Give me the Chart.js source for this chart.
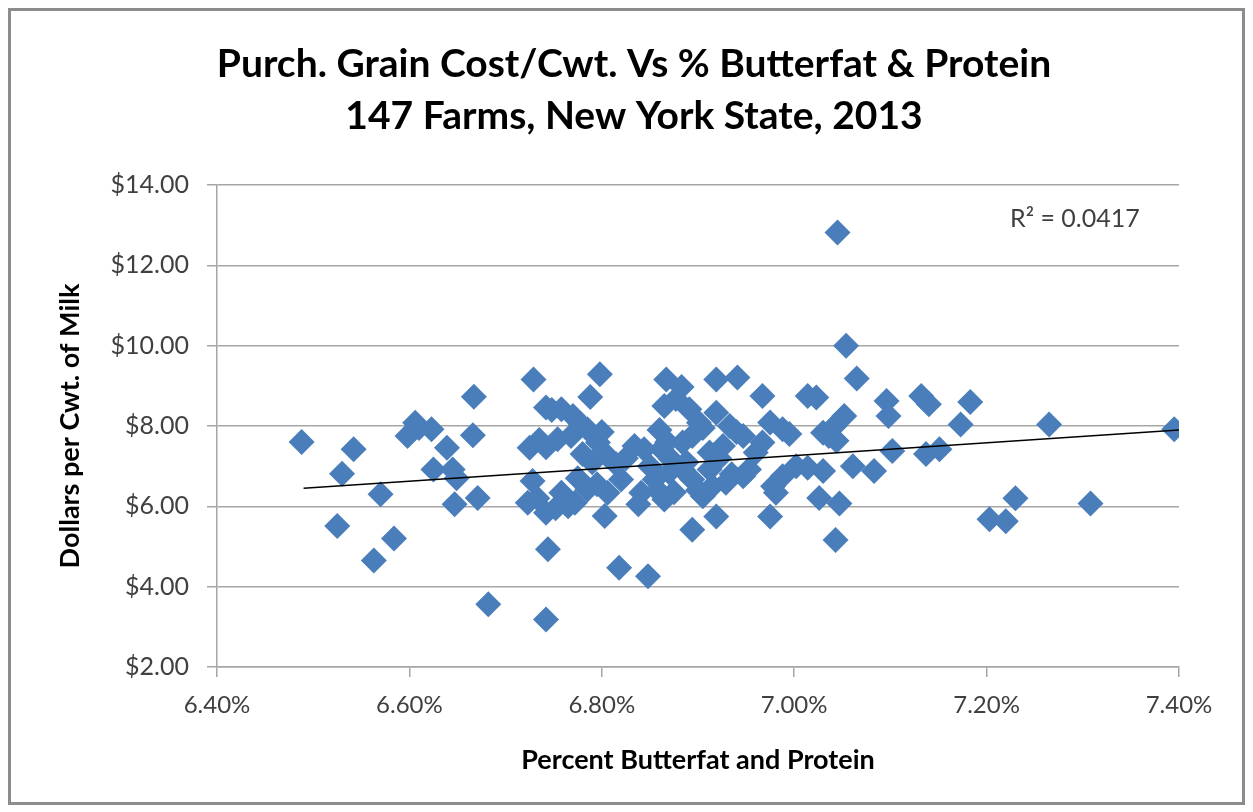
<!DOCTYPE html>
<html>
<head>
<meta charset="utf-8">
<script src="https://cdn.jsdelivr.net/npm/chart.js@4.4.1/dist/chart.umd.min.js"></script>
<style>
  html, body { margin: 0; padding: 0; background: #fff; }
  #wrap { width: 1253px; height: 812px; }
</style>
</head>
<body>
<div id="wrap"><canvas id="grainChart" width="1253" height="812"></canvas></div>
<script>
// --- DATA ---
// percent butterfat + protein
const xVals = [
  6.488, 6.542, 6.530, 6.570, 6.525, 6.584, 6.563,
  6.598, 6.606, 6.623, 6.610, 6.639, 6.625, 6.645, 6.649, 6.647, 6.671, 6.667, 6.666, 6.682,
  6.729, 6.742, 6.748, 6.725, 6.742, 6.735, 6.728, 6.723, 6.733, 6.742, 6.744, 6.742, 6.752, 6.754, 6.758, 6.758,
  6.768, 6.770, 6.772, 6.778, 6.785, 6.785, 6.788, 6.796, 6.798, 6.780, 6.790, 6.775, 6.765, 6.803, 6.806, 6.806, 6.800, 6.795,
  6.815, 6.820, 6.818, 6.825, 6.834, 6.844, 6.841, 6.848, 6.838, 6.855, 6.850, 6.862, 6.865, 6.865, 6.867, 6.872, 6.877,
  6.858, 6.870, 6.860, 6.875, 6.868,
  6.883, 6.891, 6.884, 6.894, 6.884, 6.894, 6.894, 6.901, 6.905, 6.912, 6.912, 6.915, 6.919, 6.919, 6.919, 6.926, 6.929,
  6.933, 6.941, 6.947, 6.947, 6.905, 6.888, 6.922, 6.935, 6.900, 6.940,
  6.953, 6.960, 6.967, 6.967, 6.975, 6.975, 6.978, 6.981, 6.988, 6.988, 7.002, 6.995,
  7.014, 7.014, 7.023, 7.030, 7.030, 7.026, 7.042, 7.044, 7.047, 7.043, 7.045, 7.052, 7.054, 7.061, 7.065, 7.083,
  7.096, 7.098, 7.102, 7.036,
  7.132, 7.140, 7.137, 7.151, 7.173, 7.183, 7.203, 7.220, 7.230, 7.265, 7.308, 7.395
];
// purchased grain cost, $ per cwt of milk
const yVals = [
  7.60, 7.42, 6.81, 6.30, 5.51, 5.20, 4.65,
  7.75, 8.08, 7.92, 7.95, 7.46, 6.92, 6.92, 6.70, 6.05, 6.21, 8.73, 7.77, 3.56,
  9.16, 8.46, 8.40, 7.46, 7.47, 7.65, 6.63, 6.09, 6.20, 5.84, 4.93, 3.18, 5.95, 7.67, 8.42, 6.34,
  7.75, 8.25, 6.09, 8.05, 7.92, 6.42, 8.72, 7.59, 9.29, 7.30, 7.10, 6.70, 6.00, 5.76, 7.25, 6.34, 7.85, 6.55,
  7.05, 6.67, 4.47, 7.20, 7.50, 7.42, 6.34, 4.26, 6.05, 6.67, 7.00, 7.42, 6.17, 8.50, 9.16, 7.17, 8.67,
  6.40, 6.85, 7.90, 6.35, 7.60,
  8.97, 8.42, 7.59, 7.75, 6.92, 6.67, 5.42, 8.08, 6.25, 7.34, 6.92, 6.50, 9.16, 8.33, 5.75, 7.50, 6.59,
  8.00, 9.21, 7.75, 6.75, 7.95, 7.10, 7.20, 6.80, 6.40, 7.85,
  6.92, 7.34, 7.59, 8.75, 8.09, 5.75, 6.50, 6.34, 7.92, 6.75, 7.00, 7.80,
  8.75, 6.96, 8.71, 7.83, 6.88, 6.21, 8.00, 7.63, 6.07, 5.16, 12.82, 8.25, 10.00, 7.00, 9.18, 6.88,
  8.62, 8.25, 7.38, 7.75,
  8.75, 8.54, 7.30, 7.42, 8.04, 8.60, 5.68, 5.63, 6.20, 8.04, 6.07, 7.92
];
// linear trendline end points as drawn
const trendX = [6.49, 7.40];
const trendY = [6.45, 7.90];

const xTicks = [6.4, 6.6, 6.8, 7.0, 7.2, 7.4];
const yTicks = [2, 4, 6, 8, 10, 12, 14];

const chartTitle = ['Purch. Grain Cost/Cwt. Vs % Butterfat & Protein', '147 Farms, New York State, 2013'];
const xTitle = 'Percent Butterfat and Protein';
const yTitle = 'Dollars per Cwt. of Milk';
const rSquared = 'R\u00B2 = 0.0417';

const FONT = 'Lato, "Open Sans", sans-serif';
const GRID = '#a6a6a6';

// --- extra text + frame drawn on the canvas ---
const decorPlugin = {
  id: 'decor',
  beforeDraw(chart) {
    const ctx = chart.ctx;
    ctx.save();
    ctx.fillStyle = '#fff';
    ctx.fillRect(0, 0, chart.width, chart.height);
    ctx.restore();
  },
  afterDraw(chart) {
    const ctx = chart.ctx;
    const area = chart.chartArea;
    ctx.save();
    // frame
    ctx.strokeStyle = '#8c8c8c';
    ctx.lineWidth = 3;
    ctx.strokeRect(9.5, 9.5, chart.width - 19, chart.height - 18);

    ctx.fillStyle = '#000';
    ctx.textAlign = 'center';
    ctx.textBaseline = 'middle';
    ctx.font = 'bold 39px ' + FONT;
    ctx.fillText(chartTitle[0], 634, 64);
    ctx.fillText(chartTitle[1], 634, 116);

    ctx.font = 'bold 27px ' + FONT;
    ctx.fillText(xTitle, (area.left + area.right) / 2, 760);

    ctx.save();
    ctx.translate(70, (area.top + area.bottom) / 2);
    ctx.rotate(-Math.PI / 2);
    ctx.fillText(yTitle, 0, 0);
    ctx.restore();

    ctx.fillStyle = '#404040';
    ctx.font = '25px ' + FONT;
    ctx.textAlign = 'left';
    ctx.fillText(rSquared, 1010, 219);
    ctx.restore();
  }
};

const ctx = document.getElementById('grainChart');
new Chart(ctx, {
  type: 'scatter',
  data: {
    datasets: [
      {
        label: 'Farms',
        data: xVals.map((x, i) => ({ x: x, y: yVals[i] })),
        backgroundColor: '#4a7ebb',
        borderColor: '#4a7ebb',
        borderWidth: 0,
        pointStyle: 'rectRot',
        pointRadius: 13,
        pointHoverRadius: 13,
        order: 2
      },
      {
        type: 'line',
        label: 'Linear',
        data: trendX.map((x, i) => ({ x: x, y: trendY[i] })),
        borderColor: '#000',
        borderWidth: 1.5,
        pointRadius: 0,
        fill: false,
        order: 1
      }
    ]
  },
  plugins: [decorPlugin],
  options: {
    responsive: false,
    animation: false,
    layout: { padding: { top: 185, right: 74, bottom: 0, left: 0 } },
    plugins: {
      legend: { display: false },
      title: { display: false },
      tooltip: { enabled: false }
    },
    scales: {
      x: {
        type: 'linear',
        min: 6.4,
        max: 7.4,
        afterBuildTicks: s => { s.ticks = xTicks.map(v => ({ value: v })); },
        afterFit: s => { s.height = 812 - 667; },
        ticks: {
          font: { family: FONT, size: 24 },
          color: '#404040',
          padding: 14,
          callback: v => v.toFixed(2) + '%'
        },
        grid: { drawOnChartArea: false, color: GRID, tickLength: 10, lineWidth: 1.5 },
        border: { color: GRID, width: 1.5 }
      },
      y: {
        type: 'linear',
        min: 2,
        max: 14,
        afterBuildTicks: s => { s.ticks = yTicks.map(v => ({ value: v })); },
        afterFit: s => { s.width = 217; },
        ticks: {
          font: { family: FONT, size: 25 },
          color: '#404040',
          padding: 18,
          callback: v => '$' + v.toFixed(2)
        },
        grid: { color: GRID, tickLength: 10, lineWidth: 1.5 },
        border: { color: GRID, width: 1.5 }
      }
    }
  }
});
</script>
</body>
</html>
